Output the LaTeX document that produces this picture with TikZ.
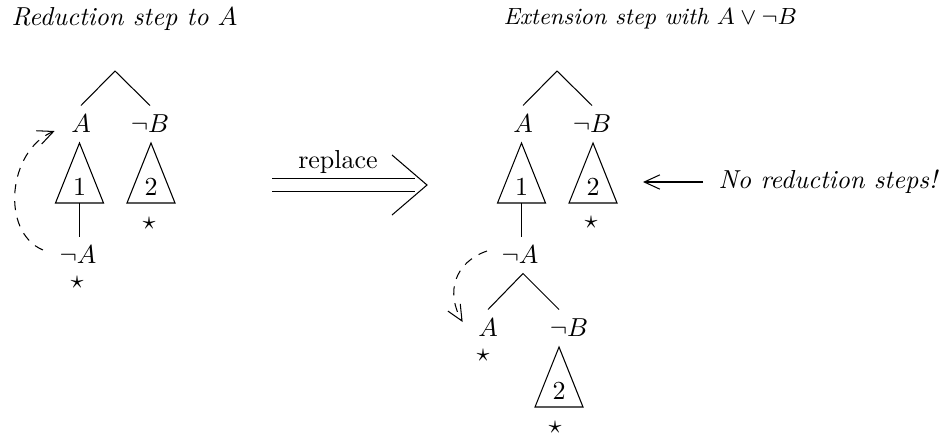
\documentclass[tikz,border=0pt]{standalone}
\usepackage{amsmath,amssymb}
\usetikzlibrary{arrows.meta,positioning}
\tikzset{
  lit/.style={inner sep=3.5pt},
  barb/.style={-{Straight Barb[length=6pt,width=5.5pt]}},
  pics/subtree/.style={code={
    \draw (0,0) -- (-24,60) -- (24,60) -- cycle;
    \node[inner sep=0pt] (-lbl) at (0,44) {$#1$};
    \coordinate (-base) at (0,60);
  }}
}
\begin{document}
\begin{tikzpicture}[x=0.3846pt,y=-0.3846pt]
				\useasboundingbox (0,0) rectangle (950,439);
				\node[anchor=west,inner sep=0pt] (tl) at (11,19) {\itshape Reduction step to $A$};
				\node[anchor=west,inner sep=0pt] (tr) at (503,19) {\small\itshape Extension step with $A\vee\neg B$};
				% left tree
				\coordinate (r1) at (115,71);
				\node[lit] (a1) at (81,124) {$A$};
				\node[lit] (b1) at (150,124) {$\neg B$};
				\draw (a1.north) -- (r1) -- (b1.north);
				\pic (s1) at (79.5,143) {subtree=1};
				\pic (s2) at (151,143) {subtree=2};
				\node (st1) at (149,223) {$\star$};
				\node[lit] (na1) at (78,255) {$\neg A$};
				\node (st2) at (77,282) {$\star$};
				\draw (s1-base) -- (s1-base |- na1.north);
				\draw[dashed,dash pattern=on 3.5pt off 3pt,barb] ([shift={(-7,-5)}]na1.west)
					.. controls (0,232) and (8,150) .. ([shift={(-7,7)}]a1.west);
				% replace arrow
				\coordinate (rs) at (272,185);
				\coordinate (re) at (427,185);
				\node (rep) at (338,162) {replace};
				\draw[double,double distance=4.3pt] (rs) -- ([shift={(-12,0)}]re);
				\draw ([shift={(-35,-30)}]re) -- (re) -- ([shift={(-35,30)}]re);
				% right tree
				\coordinate (r2) at (557,71);
				\node[lit] (a2) at (523,124) {$A$};
				\node[lit] (b2) at (592,124) {$\neg B$};
				\draw (a2.north) -- (r2) -- (b2.north);
				\pic (s3) at (521.5,143) {subtree=1};
				\pic (s4) at (593,143) {subtree=2};
				\node (st3) at (591,222) {$\star$};
				\node[lit] (na2) at (520,255) {$\neg A$};
				\draw (s3-base) -- (s3-base |- na2.north);
				\node[lit] (a3) at (488,328) {$A$};
				\node[lit] (b3) at (569,328) {$\neg B$};
				\draw (a3.north) -- ([shift={(3,0)}]na2.south) -- ([shift={(-10,0)}]b3.north);
				\node (st4) at (483,355) {$\star$};
				\pic (s5) at (559,347) {subtree=2};
				\node (st5) at (555,427) {$\star$};
				\draw[dashed,dash pattern=on 3.5pt off 3pt,barb] ([shift={(-5,-4)}]na2.west)
					.. controls (455,262) and (445,292) .. ([shift={(-6,-6)}]a3.west);
				% comment on the right
				\node[anchor=west,lit] (nr) at (709,182) {\itshape No reduction steps!};
				\coordinate (nt) at (643,182);
				\draw[barb] ([shift={(-6,0)}]nr.west) -- (nt);
			\end{tikzpicture}
\end{document}
